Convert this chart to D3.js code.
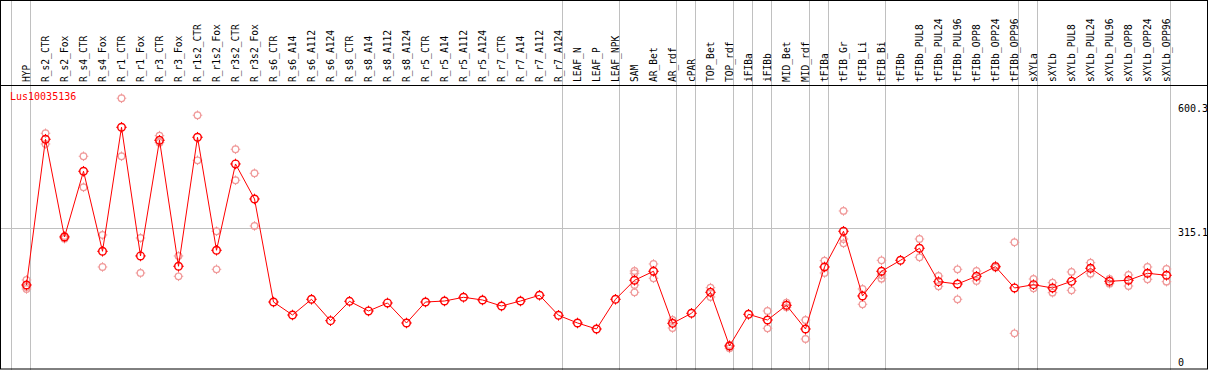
<!DOCTYPE html>
<html>
<head>
<meta charset="utf-8">
<script src="https://cdn.jsdelivr.net/npm/d3@7"></script>
<style>
  body { margin: 0; background: #fff; }
  text { font-family: "DejaVu Sans Mono", monospace; font-size: 10px; }
  text.lab { font-size: 9.6px; }
</style>
</head>
<body>
<div id="chart"></div>
<script>
const geneName = "Lus10035136";

const samples = ["HYP", "R_s2_CTR", "R_s2_Fox", "R_s4_CTR", "R_s4_Fox", "R_r1_CTR", "R_r1_Fox",
  "R_r3_CTR", "R_r3_Fox", "R_r1s2_CTR", "R_r1s2_Fox", "R_r3s2_CTR", "R_r3s2_Fox",
  "R_s6_CTR", "R_s6_A14", "R_s6_A112", "R_s6_A124", "R_s8_CTR", "R_s8_A14", "R_s8_A112", "R_s8_A124",
  "R_r5_CTR", "R_r5_A14", "R_r5_A112", "R_r5_A124", "R_r7_CTR", "R_r7_A14", "R_r7_A112", "R_r7_A124",
  "LEAF_N", "LEAF_P", "LEAF_NPK", "SAM", "AR_Bet", "AR_rdf", "cPAR", "TOP_Bet", "TOP_rdf",
  "iFIBa", "iFIBb", "MID_Bet", "MID_rdf", "tFIBa", "tFIB_Gr", "tFIB_Li", "tFIB_Bi", "tFIBb",
  "tFIBb_PUL8", "tFIBb_PUL24", "tFIBb_PUL96", "tFIBb_OPP8", "tFIBb_OPP24", "tFIBb_OPP96",
  "sXYLa", "sXYLb", "sXYLb_PUL8", "sXYLb_PUL24", "sXYLb_PUL96", "sXYLb_OPP8", "sXYLb_OPP24", "sXYLb_OPP96"];

// mean expression per sample
const means = [184.1, 517.4, 293.9, 444.2, 261.2, 544.8, 250.5, 515.1, 226.9, 522.0, 263.5, 460.9, 380.8,
  145.2, 115.5, 151.4, 102.5, 146.8, 124.7, 143.0, 97.2, 145.2, 147.5, 156.0, 149.8, 136.1, 147.5, 160.6, 114.8,
  97.2, 83.5, 151.4, 194.9, 215.5, 96.5, 119.4, 167.4, 44.6, 117.1, 104.1, 137.7, 83.5, 225.3, 307.0, 159.0,
  215.5, 240.6, 268.1, 191.7, 186.4, 204.0, 226.0, 177.3, 184.8, 177.3, 192.6, 222.3, 192.6, 194.9, 210.9, 206.3];

// individual replicates (where visible)
const replicates = [
  [195.6, 179.5, 174.9], [531.1, 506.6], [296.2, 290.0], [478.5, 407.6], [298.5, 225.3], [611.2, 478.5],
  [291.6, 211.6], [525.6, 509.6], [250.5, 204.0], [572.3, 469.3], [307.0, 220.0], [494.5, 423.6], [439.6, 319.1],
  [], [], [], [], [], [], [], [], [], [], [], [], [], [], [], [], [], [], [],
  [216.1, 210.9, 184.1, 167.4], [232.2, 199.5], [104.1, 85.8], [], [178.0, 156.7], [39.3, 46.9], [],
  [124.7, 85.1], [143.6, 133.1], [104.1, 60.6], [239.7, 211.6], [353.4, 279.5, 289.3], [175.0, 140.0],
  [240.6, 198.5, 207.0], [], [289.3, 247.5], [204.7, 181.2], [220.0, 151.4], [216.1, 193.3], [228.3, 223.7],
  [281.8, 73.6], [197.8, 176.6], [189.4, 166.5], [213.9, 172.0], [235.1, 210.0], [197.8, 187.1],
  [207.0, 181.8], [225.3, 197.2], [220.7, 191.7]];

// group separators drawn after these samples
const groupEnds = ["HYP", "R_r7_A124", "LEAF_NPK", "AR_rdf", "cPAR", "TOP_rdf", "iFIBa", "iFIBb",
  "MID_rdf", "tFIBa", "tFIB_Bi", "tFIBb_OPP96", "sXYLa", "sXYLb_OPP96"];

const yTicks = [0, 315.1, 600.3];

const W = 1209, H = 370;
const headerH = 85;

const svg = d3.select("#chart").append("svg")
  .attr("width", W).attr("height", H);

const x = d3.scaleBand().domain(samples).range([11, 11 + samples.length * 19]);
const cx = (s) => x(s) + 15.5;
const y = d3.scaleLinear().domain([0, 600.3]).range([365.5, 103]);

// grid
svg.append("line")
  .attr("x1", 0).attr("x2", x.range()[1])
  .attr("y1", Math.round(y(315.1)) + 0.5).attr("y2", Math.round(y(315.1)) + 0.5)
  .attr("stroke", "#c0c0c0");

svg.append("line")
  .attr("x1", x(samples[0]) + 0.5).attr("x2", x(samples[0]) + 0.5)
  .attr("y1", 0).attr("y2", H)
  .attr("stroke", "#c0c0c0");
svg.selectAll(".sep").data(groupEnds).enter().append("line")
  .attr("class", "sep")
  .attr("x1", d => x(d) + 19.5).attr("x2", d => x(d) + 19.5)
  .attr("y1", 0).attr("y2", H)
  .attr("stroke", "#c0c0c0");

// header labels
svg.selectAll(".lab").data(samples).enter().append("text")
  .attr("class", "lab")
  .attr("transform", d => `translate(${cx(d) + 3.5},82) rotate(-90)`)
  .attr("fill", "#000")
  .text(d => d);

// y labels on the right
svg.selectAll(".ylab").data(yTicks).enter().append("text")
  .attr("class", "ylab")
  .attr("x", 1178)
  .attr("y", d => d == 0 ? y(d) + 0.5 : y(d) + 8.5)
  .attr("fill", "#000")
  .text(d => d);

// replicates
const reps = [];
samples.forEach((s, i) => replicates[i].forEach(v => reps.push([s, v])));

const marker = (g, r, color, sw) => {
  g.append("circle").attr("r", r).attr("fill", "none").attr("stroke", color).attr("stroke-width", sw);
  g.append("path")
    .attr("d", `M0,${-r - 1.5}V${-r + 0.5}M0,${r - 0.5}V${r + 1.5}M${-r - 1.5},0H${-r + 0.5}M${r - 0.5},0H${r + 1.5}`)
    .attr("stroke", color).attr("stroke-width", 1);
};

svg.selectAll(".rep").data(reps).enter().append("g")
  .attr("class", "rep")
  .attr("transform", d => `translate(${cx(d[0])},${y(d[1])})`)
  .each(function () { marker(d3.select(this), 3.3, "#f09a9a", 1.2); });

// mean line
svg.append("path")
  .datum(samples.map((s, i) => [s, means[i]]))
  .attr("fill", "none")
  .attr("stroke", "#ff0000")
  .attr("stroke-width", 1)
  .attr("d", d3.line().x(d => cx(d[0])).y(d => y(d[1])));

svg.selectAll(".mean").data(samples.map((s, i) => [s, means[i]])).enter().append("g")
  .attr("class", "mean")
  .attr("transform", d => `translate(${cx(d[0])},${y(d[1])})`)
  .each(function () { marker(d3.select(this), 3.8, "#ff0000", 1.4); });

svg.append("text")
  .attr("x", 10).attr("y", 100)
  .attr("fill", "#ff0000")
  .text(geneName);

// frame
svg.append("rect")
  .attr("x", 0.5).attr("y", 0.5).attr("width", 1207).attr("height", 368.5)
  .attr("fill", "none").attr("stroke", "#000");
svg.append("line")
  .attr("x1", 0).attr("x2", 1208).attr("y1", headerH + 0.5).attr("y2", headerH + 0.5)
  .attr("stroke", "#000");
</script>
</body>
</html>
